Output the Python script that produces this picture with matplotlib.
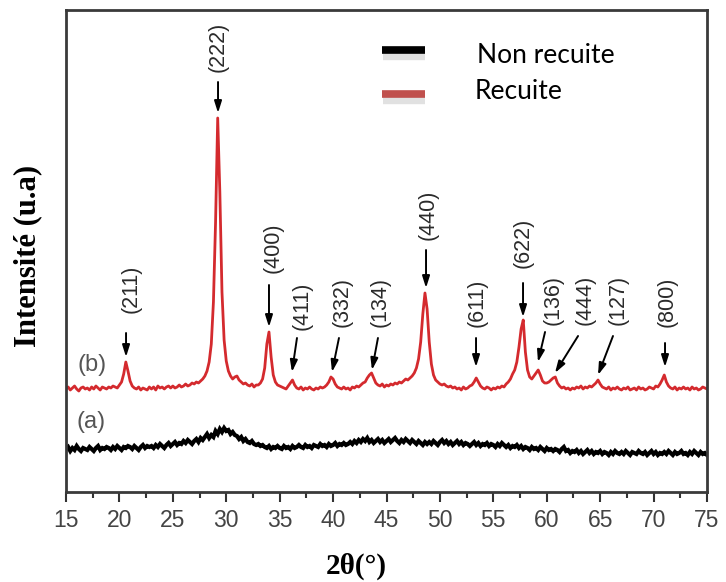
import numpy as np
import matplotlib
matplotlib.use("Agg")
import matplotlib.pyplot as plt

# ---- data -------------------------------------------------------------
# 2-theta grid: 15 to 75 degrees, step 0.2
two_theta_start, two_theta_step = 15.0, 0.2

# annealed film (b)
recuite = [
    103, 105, 102, 104, 106, 103, 101, 104, 105, 103,
    104, 102, 105, 103, 106, 104, 102, 105, 104, 103,
    105, 104, 106, 105, 104, 107, 110, 118, 130, 121,
    111, 106, 104, 103, 105, 102, 104, 103, 102, 105,
    103, 105, 102, 106, 104, 105, 103, 105, 106, 104,
    106, 104, 105, 107, 105, 106, 108, 106, 107, 109,
    108, 110, 109, 111, 113, 116, 121, 130, 148, 190,
    270, 374, 300, 200, 152, 131, 121, 116, 113, 115,
    116, 112, 110, 108, 109, 107, 106, 108, 105, 107,
    107, 109, 113, 124, 148, 160, 135, 117, 110, 107,
    106, 105, 104, 103, 106, 109, 112, 107, 104, 103,
    105, 102, 104, 103, 105, 103, 102, 104, 103, 105,
    104, 105, 107, 110, 115, 113, 108, 105, 104, 103,
    105, 103, 104, 102, 105, 104, 106, 105, 107, 109,
    110, 114, 117, 119, 114, 109, 107, 106, 108, 105,
    107, 106, 108, 107, 109, 108, 110, 109, 111, 113,
    112, 114, 116, 119, 124, 133, 150, 178, 199, 183,
    150, 128, 117, 112, 110, 108, 107, 108, 106, 105,
    106, 104, 105, 103, 104, 102, 105, 103, 104, 106,
    107, 110, 114, 110, 106, 104, 103, 105, 104, 102,
    104, 103, 105, 104, 106, 105, 108, 110, 113, 118,
    122, 130, 145, 163, 172, 140, 122, 115, 113, 116,
    119, 122, 117, 111, 109, 109, 110, 112, 114, 115,
    109, 106, 104, 105, 103, 104, 102, 104, 103, 105,
    104, 106, 103, 105, 104, 106, 105, 107, 109, 112,
    108, 105, 104, 103, 105, 102, 104, 103, 105, 103,
    102, 104, 103, 105, 102, 103, 104, 102, 105, 103,
    104, 102, 103, 105, 104, 103, 106, 105, 108, 112,
    117, 110, 106, 104, 103, 105, 102, 104, 103, 105,
    103, 104, 102, 105, 103, 104, 102, 103, 105, 104,
    103,
]

# as-deposited film (a)
non_recuite = [
    43, 45, 41, 44, 42, 46, 43, 41, 44, 43,
    42, 45, 43, 41, 44, 46, 42, 44, 43, 45,
    44, 42, 45, 43, 46, 44, 42, 45, 44, 46,
    45, 43, 46, 44, 42, 45, 47, 44, 46, 45,
    46, 44, 47, 45, 48, 46, 44, 47, 49, 46,
    48, 50, 47, 49, 48, 51, 49, 52, 50, 48,
    51, 53, 50, 54, 52, 55, 58, 54, 57, 55,
    61, 58, 63, 60, 64, 61, 62, 58, 60, 57,
    56, 53, 55, 51, 53, 50, 49, 51, 48, 47,
    48, 46, 47, 45, 44, 46, 43, 45, 44, 46,
    44, 43, 46, 44, 45, 43, 46, 44, 45, 47,
    45, 44, 47, 45, 46, 44, 47, 46, 45, 48,
    46, 47, 45, 48, 46, 47, 49, 46, 48, 47,
    49, 47, 48, 50, 48, 51, 49, 52, 50, 53,
    51, 54, 50, 52, 49, 51, 53, 50, 52, 49,
    51, 53, 50, 52, 54, 51, 49, 52, 50, 53,
    51, 49, 52, 50, 48, 51, 49, 47, 50, 48,
    50, 48, 51, 49, 47, 50, 52, 49, 51, 48,
    50, 47, 49, 51, 48, 50, 47, 49, 48, 46,
    48, 50, 47, 49, 46, 48, 47, 49, 46, 48,
    47, 45, 48, 46, 49, 47, 45, 47, 44, 46,
    45, 47, 44, 46, 43, 45, 44, 42, 45, 43,
    44, 42, 45, 43, 41, 44, 42, 43, 41, 43,
    42, 40, 43, 45, 41, 42, 39, 41, 40, 42,
    39, 41, 38, 40, 42, 39, 41, 38, 40, 39,
    41, 38, 40, 39, 37, 40, 38, 41, 39, 38,
    40, 38, 41, 39, 37, 40, 39, 38, 41, 39,
    38, 40, 37, 39, 41, 38, 40, 37, 39, 38,
    40, 38, 41, 39, 37, 40, 38, 39, 41, 38,
    39, 37, 40, 38, 41, 39, 37, 40, 38, 39,
    37,
]

# indexed reflections of the annealed film
hkl = ["(211)", "(222)", "(400)", "(411)", "(332)", "(134)", "(440)",
       "(611)", "(622)", "(136)", "(444)", "(127)", "(800)"]
peak_2theta = [20.62, 29.23, 34.0, 36.15, 39.9, 43.64, 48.7,
               53.38, 57.78, 59.18, 60.77, 64.8, 71.07]

x_ticks = [15, 20, 25, 30, 35, 40, 45, 50, 55, 60, 65, 70, 75]

# ---- annotation layout: (tip gap, arrow length, tail dx, label gap, label dx)
annot_layout = [
    (5, 24, 0.0, 20, 0.46),
    (5, 31, 0.0, 10, 0.0),
    (5, 42, 0.0, 12, 0.38),
    (8, 34, 0.47, 8, 0.94),
    (5, 34, 0.65, 11, 0.94),
    (3, 32, 0.56, 11, 0.75),
    (5, 38, 0.0, 10, 0.19),
    (11, 29, 0.0, 11, 0.09),
    (3, 34, 0.0, 15, 0.0),
    (8, 30, 0.66, 7, 1.41),
    (4, 37, 2.16, 11, 2.81),
    (5, 39, 1.4, 11, 1.87),
    (8, 24, 0.0, 16, 0.19),
]

# ---- figure -----------------------------------------------------------
two_theta = two_theta_start + two_theta_step * np.arange(len(recuite))
y_b = np.array(recuite, dtype=float)
y_a = np.array(non_recuite, dtype=float)

fig = plt.figure(figsize=(7.26, 5.82), dpi=100)
ax = fig.add_axes([66 / 726, 90 / 582, 641 / 726, 482 / 582])

red = "#d42a2e"
ax.plot(two_theta, y_a, color="black", lw=3.0, solid_joinstyle="miter")
ax.plot(two_theta, y_b, color=red, lw=2.0)

ax.set_xlim(15, 75)
ax.set_ylim(0, 482)
ax.set_yticks([])
ax.set_xticks(x_ticks)
ax.set_xticks(np.arange(17.5, 75, 5), minor=True)
ax.tick_params(axis="x", which="major", direction="out", length=7, width=1.5,
               color="#333333", pad=5, labelsize=16.5, labelcolor="#444444")
ax.tick_params(axis="x", which="minor", direction="out", length=4.5, width=1.5,
               color="#333333")
for lbl in ax.get_xticklabels():
    lbl.set_fontfamily("Liberation Sans")
for sp in ax.spines.values():
    sp.set_linewidth(2)
    sp.set_color("#3a3a3a")

# reflection labels with arrows
for name, pos, (gap, length, tdx, lgap, ldx) in zip(hkl, peak_2theta, annot_layout):
    near = np.abs(two_theta - pos) <= 0.25
    tip_y = y_b[near].max() + gap
    tail_y = tip_y + length
    ax.annotate("", xy=(pos, tip_y), xytext=(pos + tdx, tail_y),
                arrowprops=dict(arrowstyle="-|>,head_length=0.7,head_width=0.22",
                                color="black", lw=1.4, shrinkA=0, shrinkB=0))
    ax.text(pos + ldx, tail_y + lgap, name, rotation=90, ha="center", va="bottom",
            fontsize=15.5, family="Liberation Sans", color="#2a2a2a")

ax.text(17.45, 127, "(b)", ha="center", va="center", fontsize=17,
        family="Liberation Sans", color="#555555")
ax.text(17.3, 70, "(a)", ha="center", va="center", fontsize=17,
        family="Liberation Sans", color="#555555")

# legend drawn as bars with a soft shadow
for yf, col in [(0.916, "black"), (0.826, "#c0504d")]:
    ax.plot([0.495, 0.560], [yf - 0.012, yf - 0.012], transform=ax.transAxes,
            color="#888888", lw=6, alpha=0.25, solid_capstyle="butt")
    ax.plot([0.493, 0.560], [yf, yf], transform=ax.transAxes,
            color=col, lw=5.5, solid_capstyle="butt")
ax.text(0.641, 0.890, "Non recuite", transform=ax.transAxes, ha="left",
        va="baseline", fontsize=19, family="Lato", color="black")
ax.text(0.638, 0.815, "Recuite", transform=ax.transAxes, ha="left",
        va="baseline", fontsize=19, family="Lato", color="black")

fig.text(356 / 726, 1 - 566 / 582, "2θ(°)", ha="center", va="center",
         fontsize=21, fontweight="bold", family="Liberation Serif")
fig.text(28 / 726, 1 - 256 / 582, "Intensité (u.a)", ha="center", va="center",
         rotation=90, fontsize=22, fontweight="bold", family="Liberation Serif")

fig.savefig("out.png", dpi=100)
